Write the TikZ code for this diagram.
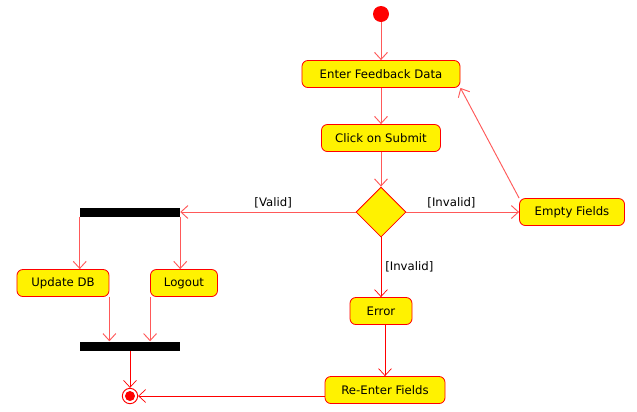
\documentclass[tikz,border=0pt]{standalone}
\usepackage{fontspec}
\setmainfont{DejaVu Sans}
\usetikzlibrary{arrows.meta,shapes.geometric,positioning}

\begin{document}
\begin{tikzpicture}[
				x=0.03cm,y=-0.03cm,
				on grid,
				font=\fontsize{10}{12}\selectfont,
				activity/.style={draw=red,line width=0.7pt,rectangle,rounded corners=5pt,minimum height=0.81cm,fill=yellow,inner xsep=2pt},
				decide/.style={draw=red,line width=0.7pt,diamond,aspect=1,minimum width=1.5cm,minimum height=1.5cm,inner sep=0pt,fill=yellow},
				bar/.style={rectangle,fill=black,minimum width=3cm,minimum height=0.27cm,inner sep=0pt},
				startnode/.style={circle,fill=red,minimum size=0.48cm,inner sep=0pt},
				endnode/.style={circle,draw=red,line width=0.8pt,fill=white,minimum size=0.46cm,inner sep=0pt,
					path picture={\fill[red] (path picture bounding box.center) circle (0.15cm);}},
				flow/.style={draw=red!65,line width=0.8pt,-{Straight Barb[length=6pt,width=11pt]}},
				flowdark/.style={draw=red,line width=0.6pt,-{Straight Barb[length=6pt,width=11pt]}}
				]
				\useasboundingbox (0,0) rectangle (637,411);
				
				% Main flow
				\node[startnode] (start) at (381,14) {};
				\node[activity,below=1.8cm of start,minimum width=4.74cm] (enter) {Enter Feedback Data};
				\node[activity,below=1.92cm of enter,minimum width=3.57cm] (submit) {Click on Submit};
				\node[decide,below=2.22cm of submit] (check) {};
				\node[activity,right=5.73cm of check,minimum width=3.15cm] (empty) {Empty Fields};
				\node[activity,below=2.97cm of check,minimum width=1.86cm] (error) {Error};
				\node[activity,below right=2.37cm and 0.12cm of error,minimum width=3.6cm] (reenter) {Re-Enter Fields};
				
				% Fork and join
				\node[bar,left=7.53cm of check] (fork) {};
				\node[activity,below left=2.13cm and 2.01cm of fork,minimum width=2.76cm] (update) {Update DB};
				\node[activity,below right=2.13cm and 1.62cm of fork,minimum width=2.01cm] (logout) {Logout};
				\node[bar,below=4.02cm of fork] (join) {};
				\node[endnode,below=1.5cm of join] (final) {};
				
				% Transitions
				\draw[flow] (start) -- (enter);
				\draw[flow] (enter) -- (submit);
				\draw[flow] (submit) -- (check);
				\draw[flow] (check) -- node[above,pos=0.4] {[Invalid]} (empty);
				\draw[flow] (empty.north west) -- (enter.south east);
				\draw[flow] (check) -- node[above,pos=0.47] {[Valid]} (fork);
				\draw[flow] (fork.south west) -- (fork.south west |- update.north);
				\draw[flow] (fork.south east) -- (fork.south east |- logout.north);
				\draw[flow] (update.south east) -- (update.south east |- join.north);
				\draw[flow] (logout.south west) -- (logout.south west |- join.north);
				\draw[flowdark] (join) -- (final);
				\draw[flowdark] (check) -- node[right] {[Invalid]} (error);
				\draw[flowdark] (reenter.north |- error.south) -- (reenter);
				\draw[flowdark] (reenter.west |- final) -- (final);
				
			\end{tikzpicture}
\end{document}
